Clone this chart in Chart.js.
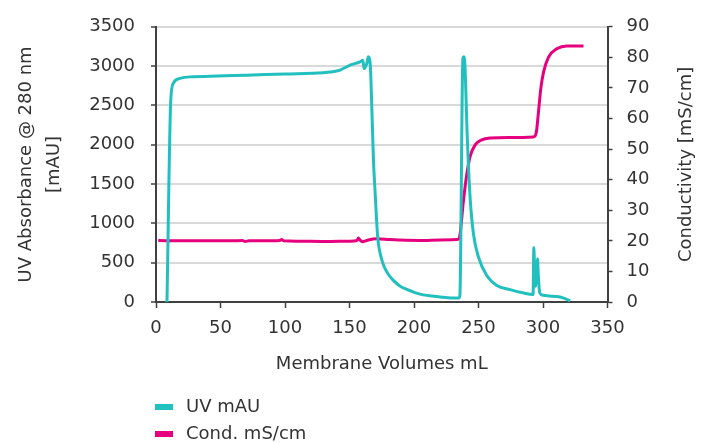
<!DOCTYPE html>
<html>
<head>
<meta charset="utf-8">
<script src="https://cdn.jsdelivr.net/npm/chart.js@4.4.1/dist/chart.umd.min.js"></script>
<style>
  body { margin: 0; background: #fff; }
  #wrap { position: relative; width: 710px; height: 443px; }
  #legend { position: absolute; left: 155px; top: 392px; font-family: 'DejaVu Sans', sans-serif; font-size: 18px; color: #333; }
  .item { height: 27px; line-height: 27px; white-space: nowrap; }
  .swatch { display: inline-block; width: 18px; height: 6px; vertical-align: middle; margin-right: 13px; }
</style>
</head>
<body>
<div id="wrap">
  <canvas id="myChart" width="710" height="443"></canvas>
  <div id="legend"></div>
</div>
<script>
// UV trace (mAU)
var uvX = [8.5, 11.4, 13.4, 18.6, 29, 41.9, 70, 100, 129.8, 140, 142.7, 150.5, 158.2, 160.3, 161.3, 163.4, 164.6, 165.9, 166.5, 168.5, 169.8, 171.6, 172.6, 174.5, 176.3, 180.2, 184, 189.3, 194.4, 204.7, 220.2, 234.8, 235.6, 237.9, 238.6, 239.5, 241.4, 243.5, 246.1, 250, 256.4, 264.2, 274.5, 285.1, 292.3, 292.9, 293.5, 294.2, 295.0, 295.7, 296.4, 297.3, 298.5, 300.4, 313.2, 317.1, 321]
var uvY = [0, 2550, 2781, 2844, 2865, 2870, 2885, 2900, 2916, 2937, 2950, 3013, 3055, 3076, 2970, 3034, 3118, 3055, 2887, 1833, 1412, 880, 720, 570, 470, 350, 275, 200, 160, 100, 65, 50, 90, 3100, 3120, 3000, 2044, 1327, 865, 569, 337, 211, 157, 114, 95, 690, 420, 200, 400, 549, 330, 130, 95, 85, 63, 43, 13]

// conductivity trace (mS/cm)
var condX = [1.8, 20, 40, 60, 67, 69, 72, 90, 96, 97.4, 99, 110, 130, 150, 155.8, 156.9, 158, 160.3, 162.5, 164.6, 171.1, 181.4, 204.7, 220.2, 233.2, 234.4, 235.7, 238.3, 240.9, 243.5, 247.4, 252.5, 259, 274.5, 292.6, 294.7, 296.5, 298.3, 300.4, 304.3, 310.7, 318.5, 331.4]
var condY = [20.1, 20.0, 20.0, 20.0, 20.1, 19.8, 20.0, 20.0, 20.1, 20.4, 20.0, 19.9, 19.8, 19.9, 20.1, 20.9, 20.3, 19.7, 20.0, 20.3, 20.7, 20.4, 20.1, 20.3, 20.4, 20.5, 22.2, 33.0, 41.7, 47.6, 51.4, 53.0, 53.6, 53.8, 54.0, 55.2, 62.2, 69.8, 75.2, 80.1, 82.8, 83.7, 83.7]

var seriesNames = ['UV mAU', 'Cond. mS/cm']
var seriesColors = ['#22bfbf', '#e6007e']
var xTitle = 'Membrane Volumes mL'
var yLeftTitle = ['UV Absorbance @ 280 nm', '[mAU]']
var yRightTitle = 'Conductivity [mS/cm]'

function pts(xs, ys) {
    let out = []
    for (let i = 0; i < xs.length; i++) { out.push({x: xs[i], y: ys[i]}) }
    return out
}

const font = 'DejaVu Sans'
const axisColor = '#404040'
const textColor = '#333'
Chart.defaults.font.family = font
Chart.defaults.color = textColor

new Chart(document.getElementById('myChart'), {
    type: 'line',
    data: {
        datasets: [{
            label: seriesNames[0],
            data: pts(uvX, uvY),
            yAxisID: 'y',
            borderColor: seriesColors[0],
            borderWidth: 3,
            pointRadius: 0,
            cubicInterpolationMode: 'monotone',
            fill: false
        }, {
            label: seriesNames[1],
            data: pts(condX, condY),
            yAxisID: 'y1',
            borderColor: seriesColors[1],
            borderWidth: 3,
            pointRadius: 0,
            cubicInterpolationMode: 'monotone',
            fill: false
        }]
    },
    options: {
        responsive: false,
        animation: false,
        layout: { padding: { top: 25, left: 0, right: 0, bottom: 63 } },
        scales: {
            x: {
                type: 'linear',
                min: 0, max: 350,
                ticks: { stepSize: 50, padding: 10, font: { size: 18 }, color: textColor },
                grid: { drawOnChartArea: false, tickLength: 6, tickColor: axisColor, tickWidth: 1.5 },
                border: { color: axisColor, width: 2 },
                title: { display: true, text: xTitle, font: { size: 18 }, padding: { top: 0, bottom: 5 }, color: textColor },
                afterFit: s => { s.height = 78 }
            },
            y: {
                position: 'left',
                min: 0, max: 3500,
                ticks: { stepSize: 500, padding: 16, font: { size: 18 }, color: textColor,
                    callback: v => String(v) },
                grid: { color: '#d9d9d9', lineWidth: 2, tickLength: 5, tickColor: axisColor, tickWidth: 1.5 },
                border: { color: axisColor, width: 2 },
                title: { display: true, text: yLeftTitle, font: { size: 18, lineHeight: 1.55 }, padding: { top: 12, bottom: 0 }, color: textColor },
                afterFit: s => { s.width = 156 }
            },
            y1: {
                position: 'right',
                min: 0, max: 90,
                ticks: { stepSize: 10, padding: 14, font: { size: 18 }, color: textColor },
                grid: { drawOnChartArea: false, tickLength: 5, tickColor: axisColor, tickWidth: 1.5 },
                border: { color: axisColor, width: 2 },
                title: { display: false },
                afterFit: s => { s.width = 102.5 }
            }
        },
        plugins: {
            legend: { display: false },
            tooltip: { enabled: false }
        }
    },
    plugins: [{
        // right axis title reads bottom to top, same as the left one
        afterDraw: chart => {
            let ctx = chart.ctx
            let area = chart.chartArea
            ctx.save()
            ctx.translate(686, (area.top + area.bottom) / 2)
            ctx.rotate(-Math.PI / 2)
            ctx.font = '18px "' + font + '"'
            ctx.fillStyle = textColor
            ctx.textAlign = 'center'
            ctx.textBaseline = 'middle'
            ctx.fillText(yRightTitle, 0, 0)
            ctx.restore()
        }
    }]
});

// legend below the chart, one entry per row
let lg = document.getElementById('legend')
for (let i = 0; i < seriesNames.length; i++) {
    let row = document.createElement('div')
    row.className = 'item'
    let sw = document.createElement('span')
    sw.className = 'swatch'
    sw.style.background = seriesColors[i]
    row.appendChild(sw)
    row.appendChild(document.createTextNode(seriesNames[i]))
    lg.appendChild(row)
}
</script>
</body>
</html>
